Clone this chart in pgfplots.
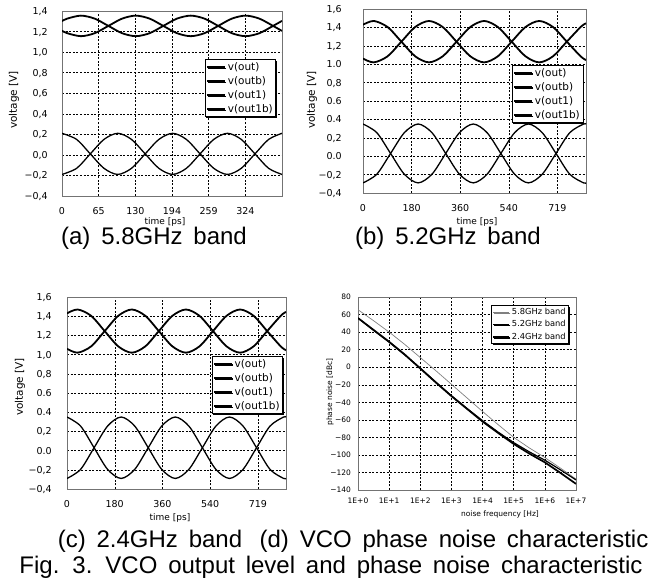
\documentclass[border=0pt]{standalone}
\usepackage{fontspec}
\setmainfont{DejaVu Sans}
\newfontfamily\capfont{Liberation Sans}
\usepackage{pgfplots}
\usepackage{pgfplotstable}
\pgfplotsset{compat=1.18}
\usetikzlibrary{shadows}

% ---------- (a) 5.8 GHz band ----------
\pgfplotstableread{
t A B
0 1.302 1.208
9.25 1.326 1.184
33.5 1.355 1.155
57.75 1.326 1.184
82 1.255 1.255
106.25 1.184 1.326
130.5 1.155 1.355
154.75 1.184 1.326
179 1.255 1.255
203.25 1.326 1.184
227.5 1.355 1.155
251.75 1.326 1.184
276 1.255 1.255
300.25 1.184 1.326
324.5 1.155 1.355
348.75 1.184 1.326
373 1.255 1.255
388.8 1.304 1.206
}\aup
\pgfplotstableread{
t C D
0 0.21 -0.19
25.75 0.151 -0.131
50 0.01 0.01
74.25 -0.131 0.151
98.5 -0.19 0.21
122.75 -0.131 0.151
147 0.01 0.01
171.25 0.151 -0.131
195.5 0.21 -0.19
219.75 0.151 -0.131
244 0.01 0.01
268.25 -0.131 0.151
292.5 -0.19 0.21
316.75 -0.131 0.151
341 0.01 0.01
365.25 0.151 -0.131
388.8 0.21 -0.19
}\alo

% ---------- (b),(c) ----------
\pgfplotstableread{
t A B
0 1.429 1.061
40 1.470 1.020
91 1.404 1.086
142 1.245 1.245
193 1.086 1.404
244 1.020 1.470
295 1.086 1.404
346 1.245 1.245
397 1.404 1.086
448 1.470 1.020
499 1.404 1.086
550 1.245 1.245
601 1.086 1.404
652 1.020 1.470
703 1.086 1.404
754 1.245 1.245
805 1.404 1.086
825 1.445 1.045
}\bup
\pgfplotstableread{
t C D
0 0.35 -0.29
51 0.256 -0.196
102 0.03 0.03
153 -0.196 0.256
204 -0.29 0.35
255 -0.196 0.256
306 0.03 0.03
357 0.256 -0.196
408 0.35 -0.29
459 0.256 -0.196
510 0.03 0.03
561 -0.196 0.256
612 -0.29 0.35
663 -0.196 0.256
714 0.03 0.03
765 0.256 -0.196
816 0.35 -0.29
825 0.347 -0.287
}\blo

% ---------- (d) phase noise ----------
\pgfplotstableread{
f g58 b52 c24
1 65.5 56 56
3.162 53 42 42.5
10 40 28.5 29
31.62 26 14 14.5
100 11 -1 -1.5
316.2 -4 -17 -17.5
1000 -19.5 -32.5 -33
3162 -35 -47 -47.5
10000 -50.5 -61 -62
31620 -65.5 -74 -75
100000 -80 -86 -87.5
316200 -92 -96.5 -98.5
1000000 -103 -106 -108.5
3162000 -115 -117 -120.5
10000000 -127.5 -128.5 -133
}\pn

\newcommand\capt[1]{{\capfont\fontsize{24}{28}\selectfont\spaceskip=0.45em plus 0.1em\relax #1}}

\pgfplotsset{
  vco/.style={
    scale only axis, anchor=south west, clip=true,
    axis line style={black!55, line width=1pt},
    grid=major,
    major grid style={black, line width=0.45pt, dash pattern=on 2pt off 1.6pt},
    major tick length=0pt, minor tick length=0pt,
    legend cell align=left,
    every axis legend/.append style={draw=black, line width=0.6pt, fill=white,
      drop shadow={shadow xshift=1.3pt, shadow yshift=-1.3pt, fill=black, opacity=1},
      anchor=north east, inner sep=1pt, row sep=0.5pt},
  },
  wave/.style={vco,
    xticklabel style={font=\fontsize{9.5}{10}\selectfont, text height=7pt, text depth=0pt, yshift=-8.3pt},
    yticklabel style={font=\fontsize{9.5}{10}\selectfont, text height=7pt, text depth=0pt},
    legend style={font=\fontsize{10.5}{12}\selectfont},
    legend image code/.code={\draw[##1] (0pt,0pt) -- (18pt,0pt);},
  },
  thk/.style={smooth, black, line width=1.8pt},
  thn/.style={smooth, black, line width=1.3pt},
}

\begin{document}
\begin{tikzpicture}
\useasboundingbox (0,0) rectangle (648pt,-587pt);

% (a)
\begin{axis}[wave, at={(62pt,-196pt)}, width=220pt, height=185pt,
  xmin=0, xmax=388.8, ymin=-0.4, ymax=1.4,
  xtick={0,64.8,129.6,194.4,259.2,324}, xticklabels={0,65,130,194,259,324},
  ytick={-0.4,-0.2,0,0.2,0.4,0.6,0.8,1.0,1.2,1.4},
  yticklabels={{−0,4},{−0,2},{0,0},{0,2},{0,4},{0,6},{0,8},{1,0},{1,2},{1,4}},
  yticklabel style={xshift=-10.8pt},
  legend style={at={(0.973,0.74)}}]
\addplot[thk] table[x=t,y=A]{\aup}; \addlegendentry{v(out)}
\addplot[thk] table[x=t,y=B]{\aup}; \addlegendentry{v(outb)}
\addplot[thn] table[x=t,y=C]{\alo}; \addlegendentry{v(out1)}
\addplot[thn] table[x=t,y=D]{\alo}; \addlegendentry{v(out1b)}
\end{axis}

% (b)
\begin{axis}[wave, at={(363pt,-193pt)}, width=223pt, height=184pt,
  xmin=0, xmax=825, ymin=-0.4, ymax=1.6,
  xtick={0,179.8,359.6,539.4,719.2}, xticklabels={0,180,360,540,719},
  ytick={-0.4,-0.2,0,0.2,0.4,0.6,0.8,1.0,1.2,1.4,1.6},
  yticklabels={{−0,4},{−0,2},{0.0},{0,2},{0.4},{0.6},{0,8},{1.0},{1,2},{1,4},{1,6}},
  yticklabel style={xshift=-17.8pt},
  legend style={at={(0.987,0.696)}}]
\addplot[thk] table[x=t,y=A]{\bup}; \addlegendentry{v(out)}
\addplot[thk] table[x=t,y=B]{\bup}; \addlegendentry{v(outb)}
\addplot[thn] table[x=t,y=C]{\blo}; \addlegendentry{v(out1)}
\addplot[thn] table[x=t,y=D]{\blo}; \addlegendentry{v(out1b)}
\end{axis}

% (c)
\begin{axis}[wave, at={(67pt,-489pt)}, width=219pt, height=192pt,
  xmin=0, xmax=825, ymin=-0.4, ymax=1.6,
  xtick={0,179.8,359.6,539.4,719.2}, xticklabels={0,180,360,540,719},
  ytick={-0.4,-0.2,0,0.2,0.4,0.6,0.8,1.0,1.2,1.4,1.6},
  yticklabels={{−0,4},{−0,2},{0.0},{0,2},{0.4},{0.6},{0,8},{1,0},{1,2},{1,4},{1,6}},
  yticklabel style={xshift=-11.8pt},
  legend style={at={(0.986,0.693)}}]
\addplot[thk] table[x=t,y=A]{\bup}; \addlegendentry{v(out)}
\addplot[thk] table[x=t,y=B]{\bup}; \addlegendentry{v(outb)}
\addplot[thn] table[x=t,y=C]{\blo}; \addlegendentry{v(out1)}
\addplot[thn] table[x=t,y=D]{\blo}; \addlegendentry{v(out1b)}
\end{axis}

% (d)
\begin{axis}[vco, at={(358pt,-490pt)}, width=218pt, height=193pt,
  xmode=log, log basis x=10, xminorticks=false,
  xmin=1, xmax=1e7, ymin=-140, ymax=80,
  xtick={1,10,100,1000,10000,100000,1000000,10000000},
  xticklabels={1E+0,1E+1,1E+2,1E+3,1E+4,1E+5,1E+6,1E+7},
  ytick={-140,-120,-100,-80,-60,-40,-20,0,20,40,60,80},
  yticklabels={−140,−120,−100,−80,−60,−40,−20,0,20,40,60,80},
  xticklabel style={font=\fontsize{7.5}{8}\selectfont, text height=5.5pt, text depth=0pt, yshift=-4.8pt},
  yticklabel style={font=\fontsize{7.5}{8}\selectfont, text height=5.5pt, text depth=0pt, xshift=-3.5pt},
  legend style={at={(0.968,0.959)}, font=\fontsize{8.3}{9}\selectfont},
  legend image code/.code={\draw[#1] (0pt,0pt) -- (16pt,0pt);}]
\addplot[black!50, line width=0.7pt] table[x=f,y=g58]{\pn}; \addlegendentry{5.8GHz band}
\addplot[black, line width=1.2pt] table[x=f,y=b52]{\pn}; \addlegendentry{5.2GHz band}
\addplot[black, line width=1.7pt] table[x=f,y=c24]{\pn}; \addlegendentry{2.4GHz band}
\end{axis}

% axis labels
\node[rotate=90, font=\fontsize{10.5}{12}\selectfont] at (14pt,-100pt) {voltage [V]};
\node[rotate=90, font=\fontsize{10.5}{12}\selectfont] at (312pt,-100pt) {voltage [V]};
\node[rotate=90, font=\fontsize{10.5}{12}\selectfont] at (20pt,-387pt) {voltage [V]};
\node[rotate=90, font=\fontsize{7.5}{9}\selectfont] at (330pt,-392pt) {phase noise [dBc]};
\node[font=\fontsize{9}{10}\selectfont] at (165pt,-222pt) {time [ps]};
\node[font=\fontsize{9}{10}\selectfont] at (477pt,-222pt) {time [ps]};
\node[font=\fontsize{9}{10}\selectfont] at (170pt,-518pt) {time [ps]};
\node[font=\fontsize{7.5}{9}\selectfont] at (500pt,-514pt) {noise frequency [Hz]};

% captions
\node at (154pt,-238pt) {\capt{(a) 5.8GHz band}};
\node at (448pt,-238pt) {\capt{(b) 5.2GHz band}};
\node at (150pt,-541pt) {\capt{(c) 2.4GHz band}};
\node at (454pt,-541pt) {\capt{(d) VCO phase noise characteristic}};
\node at (331pt,-567pt) {\capt{Fig. 3. VCO output level and phase noise characteristic}};
\end{tikzpicture}
\end{document}
